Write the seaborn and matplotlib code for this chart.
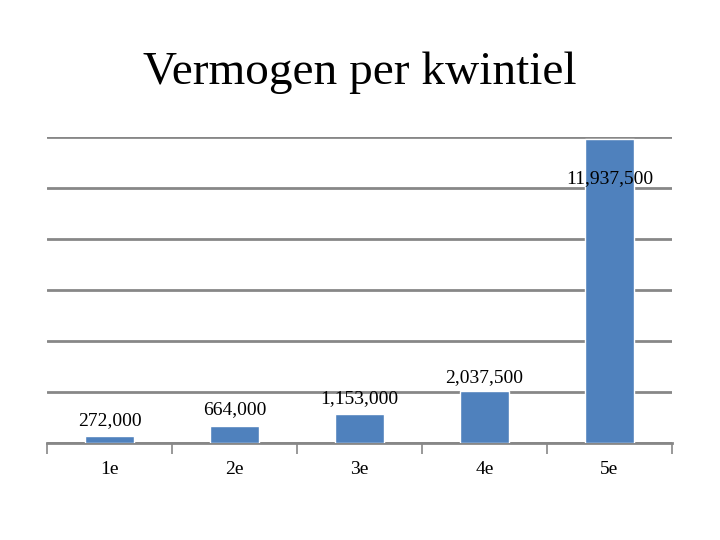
"""
Vermogen per kwintiel - bar chart with value labels.
"""

import pandas as pd
import seaborn as sns
import matplotlib.pyplot as plt
from matplotlib.ticker import MultipleLocator

QUINTILES = ["1e", "2e", "3e", "4e", "5e"]
WEALTH = [272000, 664000, 1153000, 2037500, 11937500]
VALUE_LABELS = ["272,000", "664,000", "1,153,000", "2,037,500", "11,937,500"]

# vertical offset of each value label from its bar top, in points
LABEL_OFFSETS = [11, 12, 11, 10, -29]

BAR_COLOR = "#4F81BD"
GRID_COLOR = "#878787"


def draw_chart() -> None:
    df = pd.DataFrame({"Kwintiel": QUINTILES, "Vermogen": WEALTH})

    sns.set_style("white")
    plt.rcParams["font.family"] = ["Liberation Serif", "DejaVu Serif"]
    plt.rcParams["text.color"] = "black"

    fig = plt.figure(figsize=(7.2, 5.4), dpi=100)
    ax = fig.add_axes([0.0653, 0.1796, 0.868, 0.5667])

    sns.barplot(data=df, x="Kwintiel", y="Vermogen", color=BAR_COLOR,
                width=0.39, saturation=1, ax=ax, zorder=3)

    ax.set_xlim(-0.5, len(QUINTILES) - 0.5)
    ax.set_ylim(0, 12000000)
    ax.yaxis.set_major_locator(MultipleLocator(2000000))
    ax.grid(axis="y", color=GRID_COLOR, linewidth=2, zorder=0)
    ax.set_yticklabels([])
    ax.tick_params(axis="y", length=0)

    # category boundary ticks
    ax.set_xticks([i - 0.5 for i in range(len(QUINTILES) + 1)], minor=True)
    ax.tick_params(axis="x", which="minor", bottom=True, direction="out",
                   length=8, width=1.2, color=GRID_COLOR)
    ax.tick_params(axis="x", which="major", length=0, pad=13, labelsize=14,
                   labelcolor="black")

    for side in ["left", "right", "top"]:
        ax.spines[side].set_visible(False)
    ax.spines["bottom"].set_color(GRID_COLOR)
    ax.spines["bottom"].set_linewidth(2)

    for i, (value, label) in enumerate(zip(WEALTH, VALUE_LABELS)):
        ax.annotate(label, (i, value), xytext=(0, LABEL_OFFSETS[i]),
                    textcoords="offset points", ha="center", va="center",
                    fontsize=14, color="black", zorder=5)

    ax.set_xlabel("")
    ax.set_ylabel("")
    fig.suptitle("Vermogen per kwintiel", y=0.905, fontsize=34, color="black")

    fig.savefig("out.png", dpi=100)


if __name__ == "__main__":
    draw_chart()
